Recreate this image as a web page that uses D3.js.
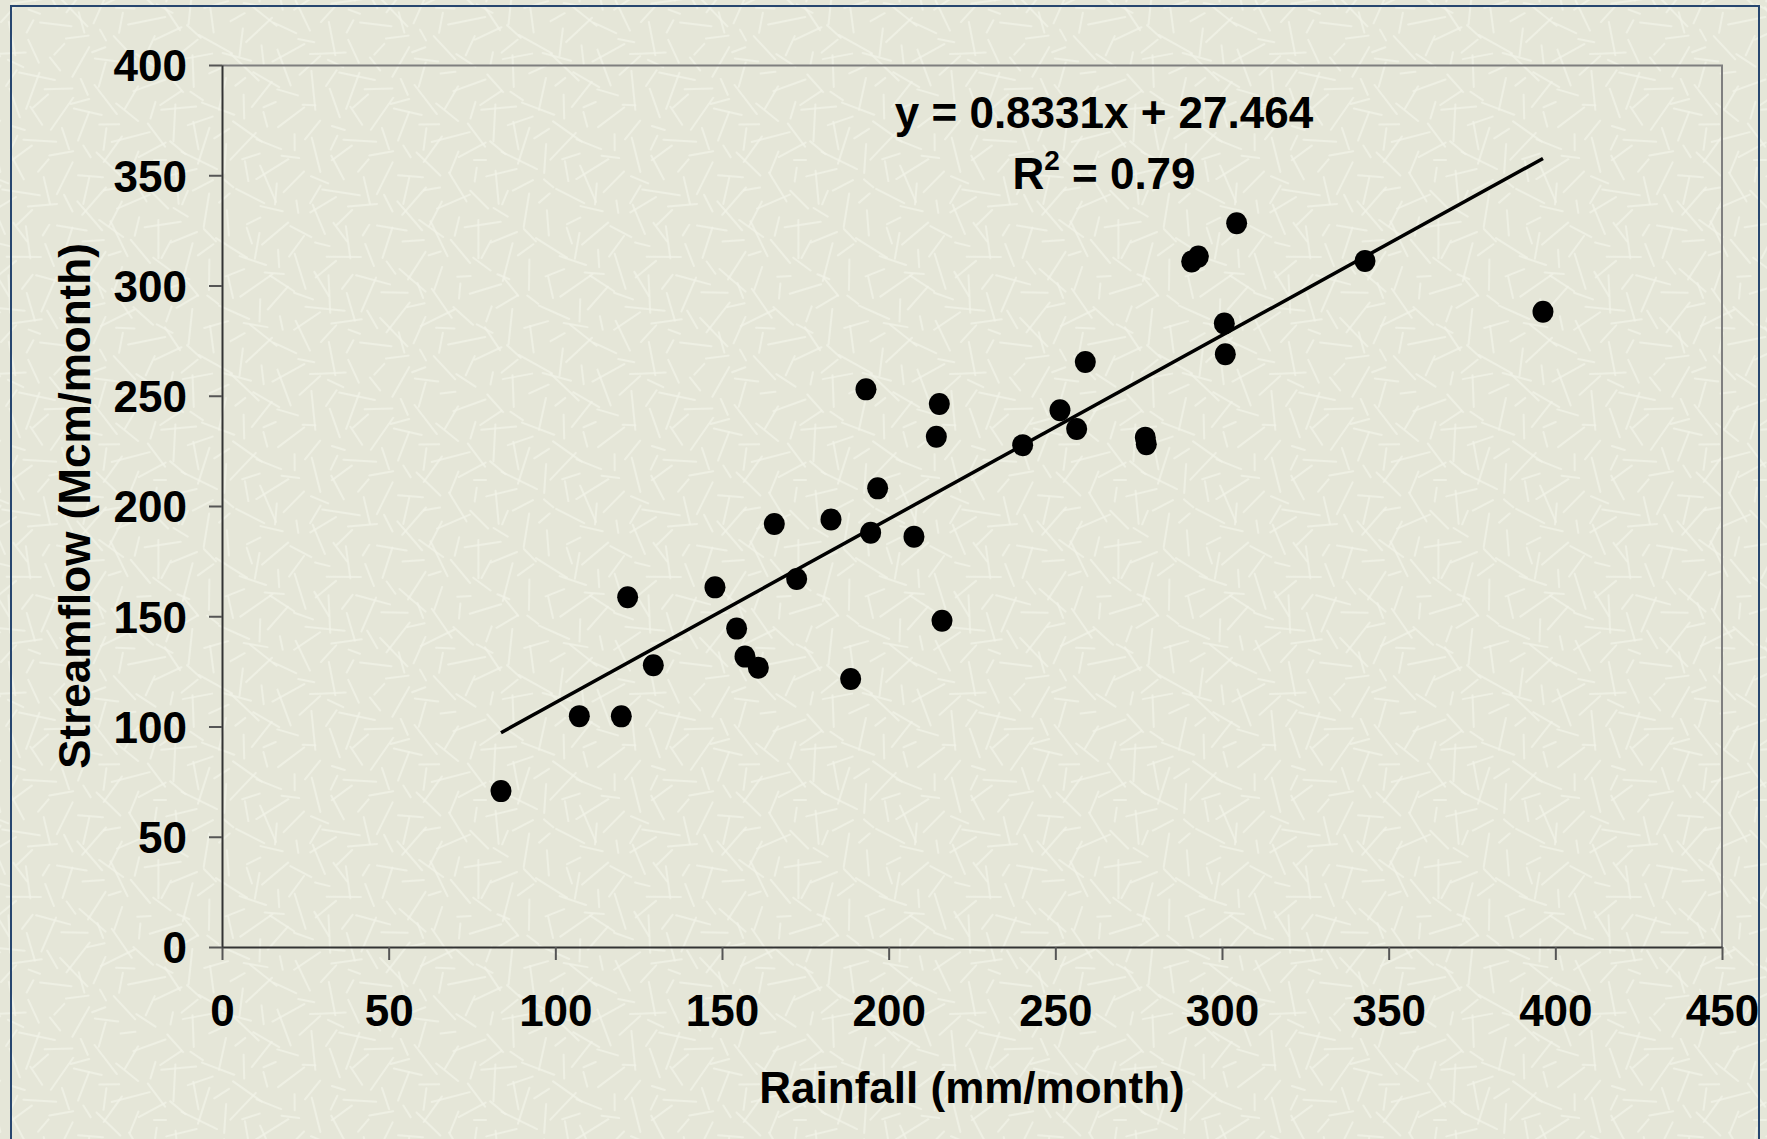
<!DOCTYPE html>
<html>
<head>
<meta charset="utf-8">
<script src="https://cdn.jsdelivr.net/npm/d3@7"></script>
<style>
  body { margin: 0; background: #e6e7d9; }
  svg { display: block; }
  text { font-family: "Liberation Sans", Arial, sans-serif; font-weight: bold; fill: #000; }
</style>
</head>
<body>
<svg id="chart" width="1767" height="1139"></svg>
<script>
'use strict';

// rainfall (mm/month) vs streamflow (Mcm/month)
var rainfall = [83.7, 107.2, 119.8, 121.7, 129.4, 147.9, 154.4, 156.9, 160.9, 165.7,
  172.4, 182.7, 188.6, 193.2, 194.6, 196.7, 207.6, 214.3, 215.2, 216.0,
  240.2, 251.4, 256.4, 259.0, 277.0, 277.3, 290.9, 292.9, 300.7, 301.0,
  304.4, 342.9, 396.3];
var streamflow = [70.7, 104.7, 104.6, 158.6, 127.8, 163.1, 144.4, 131.7, 126.7, 191.8,
  166.9, 193.9, 121.5, 252.9, 187.9, 208.0, 186.1, 231.4, 246.3, 148.0,
  227.6, 243.4, 234.9, 265.3, 231.0, 228.0, 310.9, 313.1, 282.8, 268.8,
  328.2, 311.1, 288.1];

var xTicks = [0, 50, 100, 150, 200, 250, 300, 350, 400, 450];
var yTicks = [0, 50, 100, 150, 200, 250, 300, 350, 400];

var slope = 0.8331,
  intercept = 27.464,
  rSquared = 0.79;

var svg = d3.select('#chart'),
  W = +svg.attr('width'),
  H = +svg.attr('height'),
  margin = {top: 65, right: 45, bottom: 192, left: 222},
  width = W - margin.left - margin.right,
  height = H - margin.top - margin.bottom;

// paper texture (pale scattered strokes)
var T = 320;
var pat = svg.append('defs').append('pattern')
  .attr('id', 'paper')
  .attr('patternUnits', 'userSpaceOnUse')
  .attr('width', T)
  .attr('height', T);
pat.append('rect').attr('width', T).attr('height', T).attr('fill', '#e5e6d8');
function frac(v) { return v - Math.floor(v); }
d3.range(230).forEach(function (i) {
  var cx = frac(0.5 + i * 0.7548777) * T,
    cy = frac(0.5 + i * 0.5698403) * T,
    a = frac(i * 0.4142136) * Math.PI,
    len = 6 + frac(i * 0.3183099) * 14;
  [-T, 0, T].forEach(function (ox) {
    [-T, 0, T].forEach(function (oy) {
      pat.append('line')
        .attr('x1', cx + ox - Math.cos(a) * len)
        .attr('y1', cy + oy - Math.sin(a) * len)
        .attr('x2', cx + ox + Math.cos(a) * len)
        .attr('y2', cy + oy + Math.sin(a) * len)
        .attr('stroke', '#f2f3e8')
        .attr('stroke-width', 2)
        .attr('stroke-linecap', 'round')
        .attr('opacity', 0.75);
    });
  });
});

svg.append('rect')
  .attr('width', W)
  .attr('height', H)
  .attr('fill', 'url(#paper)');

// outer frame
svg.append('rect')
  .attr('x', 11)
  .attr('y', 6)
  .attr('width', 1748)
  .attr('height', 1140)
  .attr('fill', 'none')
  .attr('stroke', '#27466f')
  .attr('stroke-width', 2);

var g = svg.append('g')
  .attr('transform', 'translate(' + margin.left + ',' + margin.top + ')');

var x = d3.scaleLinear()
  .domain([0, 450])
  .range([0, width]);

var y = d3.scaleLinear()
  .domain([0, 400])
  .range([height, 0]);

// top and right plot border
g.append('path')
  .attr('d', 'M0,0.5H' + width + 'V' + height)
  .attr('fill', 'none')
  .attr('stroke', '#7f7f7f')
  .attr('stroke-width', 2);

var xAxis = g.append('g')
  .attr('transform', 'translate(0,' + height + ')')
  .call(d3.axisBottom(x).tickValues(xTicks).tickSize(13).tickSizeOuter(0));

xAxis.selectAll('text')
  .attr('y', 79)
  .attr('dy', 0)
  .attr('font-size', 44)
  .attr('font-family', null);

var yAxis = g.append('g')
  .call(d3.axisLeft(y).tickValues(yTicks).tickSize(13).tickSizeOuter(0));

yAxis.selectAll('text')
  .attr('x', -35)
  .attr('dy', '0.36em')
  .attr('font-size', 44)
  .attr('font-family', null);

g.selectAll('.domain').attr('stroke', '#333').attr('stroke-width', 2);
g.selectAll('.tick line').attr('stroke', '#555').attr('stroke-width', 2);
g.selectAll('.tick text').attr('fill', '#000');

// trend line over the range of the data
var xr = d3.extent(rainfall);
var line = d3.line()
  .x(function (d) { return x(d); })
  .y(function (d) { return y(slope * d + intercept); });

g.append('path')
  .datum(xr)
  .attr('d', line)
  .attr('fill', 'none')
  .attr('stroke', '#000')
  .attr('stroke-width', 3.5);

// points
g.selectAll('ellipse')
  .data(rainfall)
  .enter().append('ellipse')
  .attr('cx', function (d) { return x(d); })
  .attr('cy', function (d, i) { return y(streamflow[i]); })
  .attr('rx', 10.5)
  .attr('ry', 11)
  .attr('fill', '#000');

// equation label
var eqX = x(264.6);
g.append('text')
  .attr('x', eqX)
  .attr('y', 63)
  .attr('text-anchor', 'middle')
  .attr('font-size', 44)
  .text('y = ' + slope + 'x + ' + intercept);

var r2 = g.append('text')
  .attr('x', eqX)
  .attr('y', 124)
  .attr('text-anchor', 'middle')
  .attr('font-size', 44);
r2.append('tspan').text('R');
r2.append('tspan').attr('font-size', 28).attr('dy', -19).text('2');
r2.append('tspan').attr('dy', 19).text(' = ' + rSquared);

// axis titles
svg.append('text')
  .attr('x', margin.left + width / 2)
  .attr('y', 1103)
  .attr('text-anchor', 'middle')
  .attr('font-size', 44)
  .text('Rainfall (mm/month)');

svg.append('text')
  .attr('transform', 'translate(90,' + (margin.top + height / 2) + ') rotate(-90)')
  .attr('text-anchor', 'middle')
  .attr('font-size', 44)
  .text('Streamflow (Mcm/month)');
</script>
</body>
</html>
